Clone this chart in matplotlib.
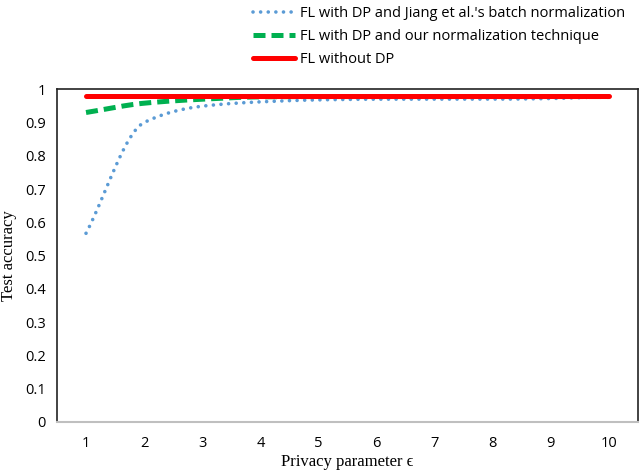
import numpy as np
import matplotlib
matplotlib.use('Agg')
import matplotlib.pyplot as plt

# data
epsilon = [1, 2, 3, 4, 5, 6, 7, 8, 9, 10]
acc_jiang = [0.567, 0.90, 0.949, 0.962, 0.968, 0.970, 0.970, 0.970, 0.972, 0.978]
acc_ours = [0.93, 0.958, 0.970, 0.977, 0.978, 0.978, 0.978, 0.978, 0.978, 0.978]
acc_nodp = [0.98, 0.98, 0.98, 0.98, 0.98, 0.98, 0.98, 0.98, 0.98, 0.98]
labels = ["FL with DP and Jiang et al.'s batch normalization",
          "FL with DP and our normalization technique",
          "FL without DP"]
yticks = [0, 0.1, 0.2, 0.3, 0.4, 0.5, 0.6, 0.7, 0.8, 0.9, 1]


def smooth(x, y, n=20):
    # monotone cubic (pchip-style) for the smoothed line look
    x = np.asarray(x, float)
    y = np.asarray(y, float)
    h = np.diff(x)
    d = np.diff(y) / h
    m = np.zeros_like(y)
    for i in range(1, len(y) - 1):
        if d[i - 1] * d[i] > 0:
            m[i] = 2 * d[i - 1] * d[i] / (d[i - 1] + d[i])
    m[0] = d[0]
    m[-1] = d[-1]
    xs, ys = [], []
    t = np.linspace(0, 1, n, endpoint=False)
    for i in range(len(x) - 1):
        h00 = 2 * t ** 3 - 3 * t ** 2 + 1
        h10 = t ** 3 - 2 * t ** 2 + t
        h01 = -2 * t ** 3 + 3 * t ** 2
        h11 = t ** 3 - t ** 2
        xs.extend(x[i] + t * h[i])
        ys.extend(h00 * y[i] + h10 * h[i] * m[i] + h01 * y[i + 1] + h11 * h[i] * m[i + 1])
    xs.append(x[-1])
    ys.append(y[-1])
    return np.array(xs), np.array(ys)


fig = plt.figure(figsize=(6.4, 4.72), dpi=100)
ax = fig.add_axes([0.089, 0.106, 0.908, 0.705])

x1, y1 = smooth(epsilon, acc_jiang)
x2, y2 = smooth(epsilon, acc_ours)
x3, y3 = smooth(epsilon, acc_nodp)
l1, = ax.plot(x1, y1, color='#5b9bd5', lw=2.6, linestyle=(0, (0.01, 2.1)),
              dash_capstyle='round', label=labels[0])
l2, = ax.plot(x2, y2, color='#00b050', lw=3.6, linestyle=(0, (2.4, 1.2)),
              label=labels[1])
l3, = ax.plot(x3, y3, color='#ff0000', lw=3.6, solid_capstyle='round',
              label=labels[2])

ax.set_xlim(0.5, 10.5)
ax.set_ylim(0, 1)
ax.set_xticks(epsilon)
ax.set_yticks(yticks)
ax.set_yticklabels(['%g' % v for v in yticks])
ax.tick_params(length=0, pad=8)
ax.tick_params(axis='x', pad=10)
for lab in ax.get_xticklabels() + ax.get_yticklabels():
    lab.set_family('Open Sans')
    lab.set_fontsize(10.5)

for s in ['left', 'right', 'top']:
    ax.spines[s].set_color('#222222')
    ax.spines[s].set_linewidth(1.2)
ax.spines['bottom'].set_color('#bfbfbf')
ax.spines['bottom'].set_linewidth(1.5)

ax.set_xlabel('Privacy parameter \u03f5', family='Liberation Serif', fontsize=12, labelpad=2)
ax.set_ylabel('Test accuracy', family='Liberation Serif', fontsize=12, labelpad=6)

fig.legend(handles=[l1, l2, l3], loc='upper left', bbox_to_anchor=(0.375, 1.015),
           frameon=False, prop={'family': 'Open Sans', 'size': 10.5},
           handlelength=2.9, handletextpad=0.3, labelspacing=0.55)

plt.savefig('out.png', dpi=100)
